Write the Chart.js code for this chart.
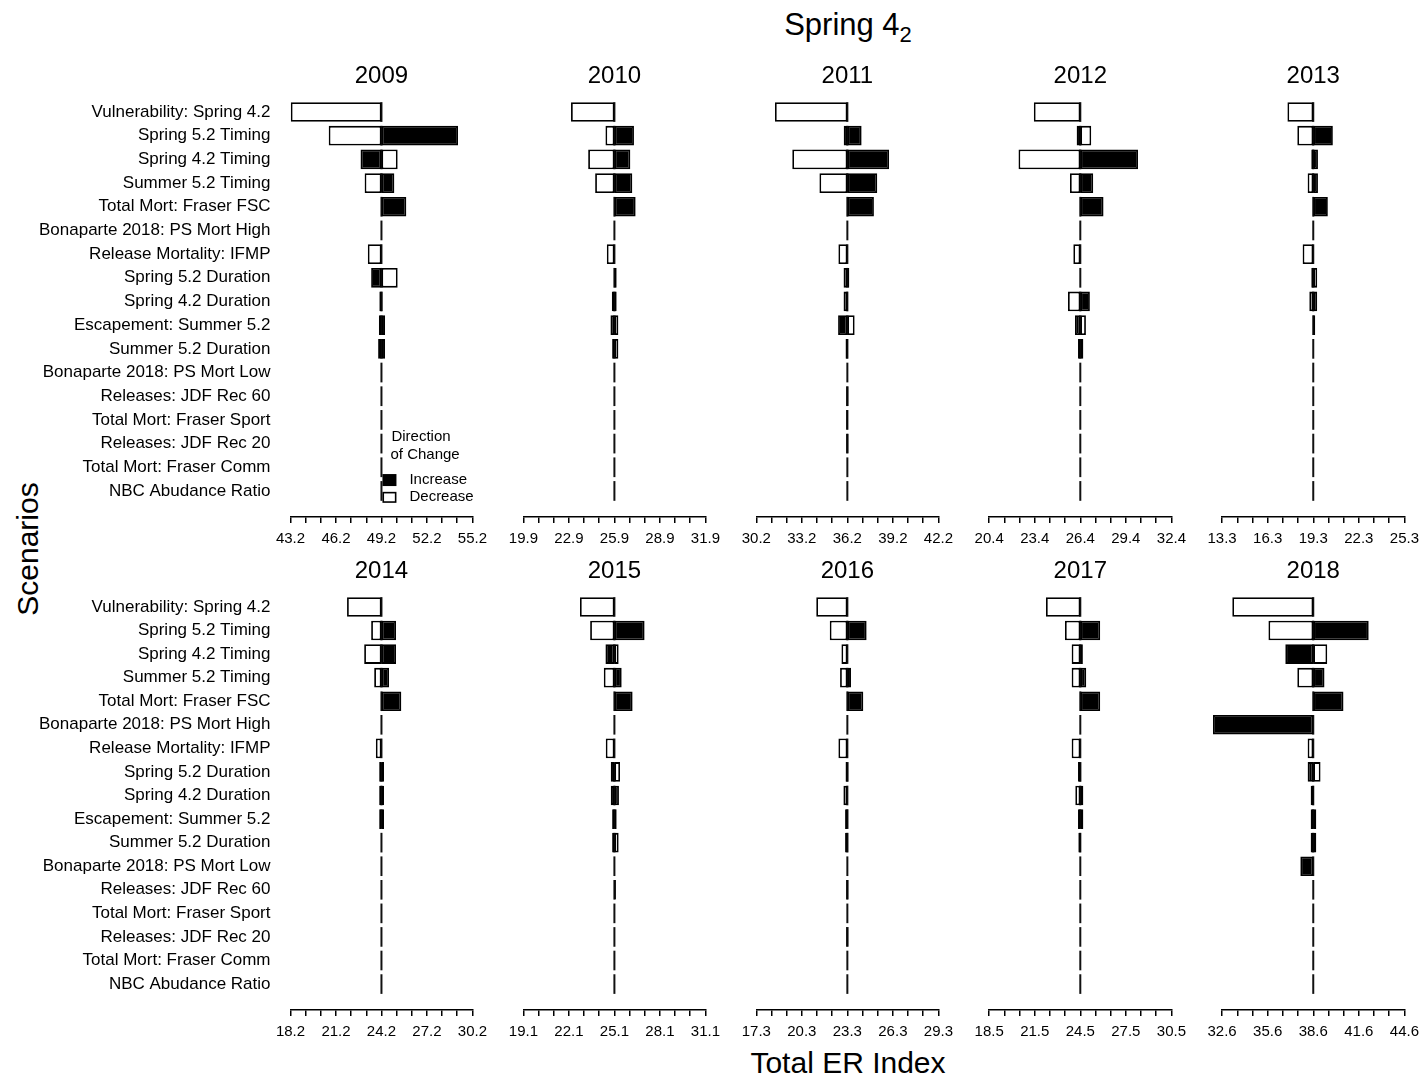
<!DOCTYPE html>
<html>
<head>
<meta charset="utf-8">
<title>Spring 4₂ – Total ER Index sensitivity</title>
<script src="https://cdn.jsdelivr.net/npm/chart.js@4.4.1/dist/chart.umd.min.js"></script>
<style>
  html, body { margin: 0; padding: 0; background: #fff; }
  body { position: relative; width: 1427px; height: 1079px; overflow: hidden;
         font-family: "Liberation Sans", Arial, Helvetica, sans-serif; color: #000; }
  canvas { position: absolute; }
  .lbl { position: absolute; white-space: nowrap; color: #000; line-height: 30px; font-size: 30px; }
</style>
</head>
<body>
<div class="lbl" style="left:648px; top:10px; width:400px; text-align:center; font-size:31px;">Spring 4<span style="font-size:22px; position:relative; top:7px;">2</span></div>
<div class="lbl" style="left:648px; top:1048px; width:400px; text-align:center;">Total ER Index</div>
<div class="lbl" style="left:28px; top:549px; transform: translate(-50%, -50%) rotate(-90deg);">Scenarios</div>

<script>
// Scenario rows, top to bottom
const scenarios = [
  'Vulnerability: Spring 4.2',
  'Spring 5.2 Timing',
  'Spring 4.2 Timing',
  'Summer 5.2 Timing',
  'Total Mort: Fraser FSC',
  'Bonaparte 2018: PS Mort High',
  'Release Mortality: IFMP',
  'Spring 5.2 Duration',
  'Spring 4.2 Duration',
  'Escapement: Summer 5.2',
  'Summer 5.2 Duration',
  'Bonaparte 2018: PS Mort Low',
  'Releases: JDF Rec 60',
  'Total Mort: Fraser Sport',
  'Releases: JDF Rec 20',
  'Total Mort: Fraser Comm',
  'NBC Abudance Ratio'
];

const years = ['2009', '2010', '2011', '2012', '2013', '2014', '2015', '2016', '2017', '2018'];

// Base-case Total ER Index for each year (centre of each panel)
const baseER = [49.2, 25.9, 36.2, 26.4, 19.3, 24.2, 25.1, 23.3, 24.5, 38.6];

// Tick offsets from the base case; every third one is labelled
const tickOffsets = [-6, -5, -4, -3, -2, -1, 0, 1, 2, 3, 4, 5, 6];

// Total ER Index when the scenario parameter is increased
const increase2009 = [49.2, 54.25, 47.82, 50.05, 50.84, 49.2, 49.2, 48.52, 49.06, 49.44, 49.44, 49.2, 49.2, 49.2, 49.2, 49.2, 49.2];
const increase2010 = [25.9, 27.19, 26.95, 27.08, 27.3, 25.9, 25.9, 26.05, 25.73, 25.64, 25.75, 25.9, 25.9, 25.9, 25.9, 25.9, 25.9];
const increase2011 = [36.2, 37.14, 38.95, 38.17, 37.95, 36.2, 36.2, 36.33, 36.25, 35.59, 36.08, 36.2, 36.12, 36.12, 36.12, 36.2, 36.2];
const increase2012 = [26.4, 26.16, 30.2, 27.25, 27.93, 26.4, 26.4, 26.4, 27.03, 26.05, 26.6, 26.4, 26.4, 26.4, 26.4, 26.4, 26.4];
const increase2013 = [19.3, 20.59, 19.61, 19.61, 20.26, 19.3, 19.3, 19.17, 19.56, 19.43, 19.3, 19.3, 19.3, 19.3, 19.3, 19.3, 19.3];
const increase2014 = [24.2, 25.16, 25.16, 24.7, 25.51, 24.2, 24.2, 24.37, 24.37, 24.37, 24.2, 24.2, 24.2, 24.2, 24.2, 24.2, 24.2];
const increase2015 = [25.1, 27.09, 24.51, 25.58, 26.3, 25.1, 25.1, 24.86, 25.4, 25.25, 24.95, 25.1, 25.2, 25.1, 25.1, 25.1, 25.1];
const increase2016 = [23.3, 24.57, 23.3, 23.54, 24.35, 23.3, 23.3, 23.38, 23.3, 23.37, 23.37, 23.3, 23.38, 23.3, 23.38, 23.3, 23.3];
const increase2017 = [24.5, 25.81, 24.67, 24.89, 25.81, 24.5, 24.5, 24.35, 24.7, 24.7, 24.37, 24.5, 24.5, 24.5, 24.5, 24.5, 24.5];
const increase2018 = [38.6, 42.25, 36.76, 39.34, 40.59, 32.0, 38.6, 38.23, 38.43, 38.8, 38.8, 37.75, 38.6, 38.6, 38.6, 38.6, 38.6];

// Total ER Index when the scenario parameter is decreased
const decrease2009 = [43.22, 45.72, 50.27, 48.09, 49.2, 49.2, 48.3, 50.27, 49.28, 49.03, 48.98, 49.2, 49.2, 49.2, 49.2, 49.2, 49.2];
const decrease2010 = [23.04, 25.31, 24.17, 24.63, 25.9, 25.9, 25.4, 25.9, 26.05, 26.16, 26.16, 25.9, 25.9, 25.9, 25.9, 25.9, 25.9];
const decrease2011 = [31.43, 35.96, 32.57, 34.36, 36.2, 36.2, 35.61, 35.95, 35.95, 36.68, 36.26, 36.2, 36.28, 36.26, 36.28, 36.2, 36.2];
const decrease2012 = [23.34, 27.12, 22.33, 25.72, 26.4, 26.4, 25.94, 26.4, 25.59, 26.77, 26.25, 26.4, 26.4, 26.4, 26.4, 26.4, 26.4];
const decrease2013 = [17.6, 18.25, 19.17, 18.93, 19.3, 19.3, 18.6, 19.56, 19.04, 19.3, 19.3, 19.3, 19.3, 19.3, 19.3, 19.3, 19.3];
const decrease2014 = [21.93, 23.52, 23.06, 23.72, 24.2, 24.2, 23.83, 24.05, 24.05, 24.05, 24.2, 24.2, 24.2, 24.2, 24.2, 24.2, 24.2];
const decrease2015 = [22.83, 23.5, 25.38, 24.4, 25.1, 25.1, 24.53, 25.47, 24.86, 24.95, 25.38, 25.1, 25.1, 25.1, 25.1, 25.1, 25.1];
const decrease2016 = [21.25, 22.14, 22.91, 22.82, 23.3, 23.3, 22.71, 23.18, 23.04, 23.15, 23.15, 23.3, 23.22, 23.3, 23.22, 23.3, 23.3];
const decrease2017 = [22.24, 23.49, 23.93, 23.93, 24.5, 24.5, 23.93, 24.57, 24.17, 24.35, 24.56, 24.5, 24.5, 24.5, 24.5, 24.5, 24.5];
const decrease2018 = [33.27, 35.65, 39.52, 37.55, 38.6, 38.6, 38.23, 39.08, 38.65, 38.43, 38.43, 38.6, 38.6, 38.6, 38.6, 38.6, 38.6];

const increaseByYear = [increase2009, increase2010, increase2011, increase2012, increase2013,
                        increase2014, increase2015, increase2016, increase2017, increase2018];
const decreaseByYear = [decrease2009, decrease2010, decrease2011, decrease2012, decrease2013,
                        decrease2014, decrease2015, decrease2016, decrease2017, decrease2018];

const FONT = '"Liberation Sans", Arial, Helvetica, sans-serif';
Chart.defaults.font.family = FONT;
Chart.defaults.color = '#000';

// Short vertical stub at the base value for every scenario row (visible where there is no change)
const baseStubs = {
  id: 'baseStubs',
  beforeDatasetsDraw(chart, args, opts) {
    const meta = chart.getDatasetMeta(0);
    const x = chart.scales.x.getPixelForValue(opts.base);
    const ctx = chart.ctx;
    ctx.save();
    ctx.strokeStyle = '#111';
    ctx.lineWidth = 2;
    meta.data.forEach(el => {
      const h = el.height;
      ctx.beginPath();
      ctx.moveTo(x, el.y - h / 2);
      ctx.lineTo(x, el.y + h / 2);
      ctx.stroke();
    });
    ctx.restore();
  }
};

// "Direction of Change" key, drawn inside the first panel
const directionKey = {
  id: 'directionKey',
  afterDatasetsDraw(chart, args, opts) {
    if (!opts.show) return;
    const xs = chart.scales.x, ys = chart.scales.y;
    const x0 = xs.getPixelForValue(opts.base);
    const ctx = chart.ctx;
    ctx.save();
    ctx.font = '15px ' + FONT;
    ctx.fillStyle = '#000';
    ctx.textAlign = 'left';
    ctx.textBaseline = 'middle';
    ctx.fillText('Direction', x0 + 10, ys.getPixelForValue(13.72));
    ctx.fillText('of Change', x0 + 9, ys.getPixelForValue(14.48));
    const yInc = ys.getPixelForValue(15.54), yDec = ys.getPixelForValue(16.27);
    ctx.fillStyle = '#000';
    ctx.fillRect(x0 + 1, yInc - 6, 14, 12);
    ctx.strokeStyle = '#000';
    ctx.lineWidth = 1.6;
    ctx.fillStyle = '#fff';
    ctx.fillRect(x0 + 1.8, yDec - 4.7, 12.4, 9.4);
    ctx.strokeRect(x0 + 1.8, yDec - 4.7, 12.4, 9.4);
    ctx.fillStyle = '#000';
    ctx.fillText('Increase', x0 + 28, yInc);
    ctx.fillText('Decrease', x0 + 28, yDec);
    ctx.restore();
  }
};

const PANEL_W = 183;     // plot width of one panel
const COL_STEP = 232.9;  // horizontal distance between panels
const ROW_STEP = 495;    // vertical distance between panel rows
const FIRST_LEFT = 290.5;

years.forEach((year, k) => {
  const r = Math.floor(k / 5), c = k % 5;
  const base = baseER[k];
  const inc = increaseByYear[k], dec = decreaseByYear[k];

  const areaLeft = FIRST_LEFT + COL_STEP * c;
  const canvasLeft = c === 0 ? 0 : Math.floor(areaLeft) - 30;
  const padLeft = c === 0 ? 0 : areaLeft - canvasLeft;
  const width = Math.ceil(areaLeft - canvasLeft + PANEL_W + 20);
  const padRight = width - (areaLeft - canvasLeft) - PANEL_W;

  const canvas = document.createElement('canvas');
  canvas.width = width;
  canvas.height = 496;
  canvas.style.left = canvasLeft + 'px';
  canvas.style.top = (60 + ROW_STEP * r) + 'px';
  document.body.appendChild(canvas);

  const barCommon = {
    borderColor: '#000',
    borderWidth: 1.8,
    borderSkipped: false,
    grouped: false,
    barPercentage: 0.833,
    categoryPercentage: 1,
    clip: false
  };

  new Chart(canvas, {
    type: 'bar',
    data: {
      datasets: [
        Object.assign({
          label: 'Decrease',
          backgroundColor: '#fff',
          data: dec.map((v, i) => ({ x: [base, v], y: i }))
        }, barCommon),
        Object.assign({
          label: 'Increase',
          backgroundColor: '#000',
          data: inc.map((v, i) => ({ x: [base, v], y: i }))
        }, barCommon)
      ]
    },
    options: {
      indexAxis: 'y',
      responsive: false,
      animation: false,
      devicePixelRatio: 1,
      layout: { padding: { left: padLeft, right: padRight, top: 0, bottom: r === 0 ? 1 : 3 } },
      plugins: {
        legend: { display: false },
        tooltip: { enabled: false },
        title: {
          display: true,
          text: year,
          fullSize: false,
          color: '#000',
          font: { size: 24, weight: 'normal', family: FONT },
          padding: { top: 2, bottom: 7 }
        },
        baseStubs: { base: base },
        directionKey: { show: k === 0, base: base }
      },
      scales: {
        x: {
          type: 'linear',
          min: base + tickOffsets[0],
          max: base + tickOffsets[tickOffsets.length - 1],
          afterBuildTicks: (scale) => {
            scale.ticks = tickOffsets.map(o => ({ value: base + o }));
          },
          ticks: {
            autoSkip: false,
            maxRotation: 0,
            padding: 7,
            color: '#000',
            font: { size: 15, family: FONT },
            callback: (v, i) => (tickOffsets[i] % 3 === 0 ? Number(v).toFixed(1) : '')
          },
          grid: {
            display: true,
            drawOnChartArea: false,
            drawTicks: true,
            tickLength: 6,
            color: '#000',
            lineWidth: 1.5
          },
          border: { display: true, color: '#000', width: 1.5 }
        },
        y: {
          type: 'linear',
          reverse: true,
          offset: false,
          min: -0.6,
          max: 17.1,
          display: c === 0,
          afterBuildTicks: (scale) => {
            scale.ticks = scenarios.map((s, i) => ({ value: i }));
          },
          afterFit: (scale) => { if (c === 0) scale.width = areaLeft; },
          ticks: {
            autoSkip: false,
            padding: 20,
            color: '#000',
            font: { size: 17, family: FONT },
            callback: (v) => scenarios[v]
          },
          grid: { display: false, drawTicks: false, offset: false },
          border: { display: false }
        }
      }
    },
    plugins: [baseStubs, directionKey]
  });
});
</script>
</body>
</html>
